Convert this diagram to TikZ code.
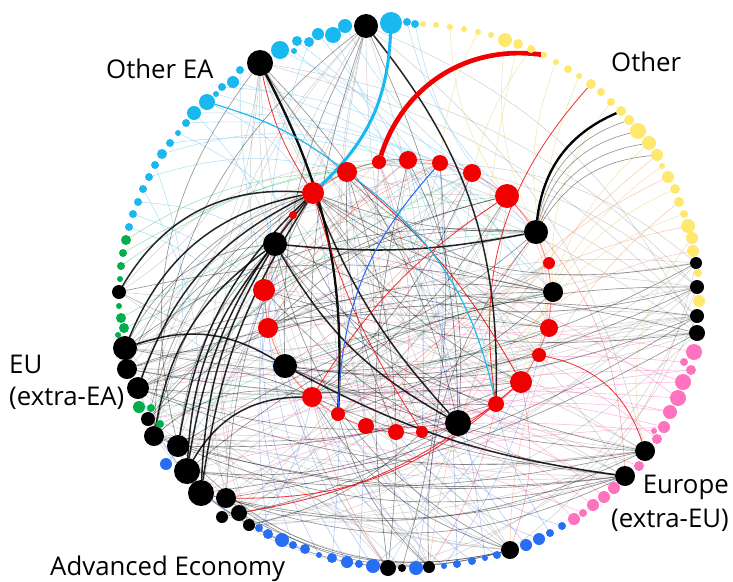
\documentclass[tikz,border=0pt]{standalone}
\usepackage{fontspec}
\setmainfont{Open Sans}
\usetikzlibrary{backgrounds}
\definecolor{cy}{RGB}{25,185,240}
\definecolor{cyl}{RGB}{120,200,240}
\definecolor{yl}{RGB}{255,232,110}
\definecolor{yll}{RGB}{235,220,150}
\definecolor{org}{RGB}{240,170,140}
\definecolor{gr}{RGB}{0,175,75}
\definecolor{bl}{RGB}{40,110,245}
\definecolor{bll}{RGB}{110,150,240}
\definecolor{pk}{RGB}{255,115,190}
\definecolor{rd}{RGB}{240,0,0}
\tikzset{
  dot/.style={circle,inner sep=0pt,outer sep=0pt,draw=none},
  lab/.style={inner sep=0pt,font=\fontsize{22pt}{26pt}\selectfont},
  e1/.style={black,line width=1.3pt,opacity=.85},
  e2/.style={black,line width=.55pt,opacity=.42},
  e3/.style={black,line width=.45pt,opacity=.18},
  ecy/.style={cyl,line width=.5pt,opacity=.55},
  epk/.style={pk,line width=.5pt,opacity=.5},
  eyl/.style={yll,line width=.5pt,opacity=.7},
  eor/.style={org,line width=.5pt,opacity=.6},
  ebl/.style={bll,line width=.5pt,opacity=.5},
  egr/.style={gr,line width=.45pt,opacity=.4},
  erd/.style={rd,line width=.7pt,opacity=.8},
  erf/.style={rd,line width=.45pt,opacity=.35},
}
\begin{document}
\begin{tikzpicture}[x=0.03cm,y=-0.03cm]
\useasboundingbox (0,0) rectangle (733,581);
% ---------- outer ring nodes ----------
\foreach \n/\x/\y/\r/\c in {
 c1/129/227/4/cy, c2/133/214/4/cy, c3/138/202/4/cy, c4/143/189/4/cy, c5/149/177/4/cy,
 c6/155/165/4/cy, c7/162/154/5/cy, c8/170/143/4/cy, c9/178/133/3/cy, c10/186/123/4/cy,
 c11/194/113/7/cy, c12/207/102/8/cy, c13/216/94/3/cy, c14/222/87/4/cy, c15/233/82/6/cy,
 c16/240/70/4/cy, k1/260/63/13/black, c17/280/50/9/cy, c18/294/51/3/cy, c19/297/41/5/cy,
 c20/309/42/5/cy, c21/318/34/6/cy, c22/333/35/8/cy, c23/345/26/7/cy, k2/366/26/12/black,
 c24/391/23/11/cy, c25/407/22/4/cy, c26/415/24/4/cy,
 y1/423/24/3/yl, y2/436/25/3/yl, y3/450/27/3/yl, y4/464/29/3/yl, y5/478/32/3/yl,
 y6/491/35/3/yl, y7/505/40/7/yl, y8/518/44/5/yl, y9/531/49/4/yl, y10/544/55/3/yl,
 y11/556/62/3/yl, y12/568/69/4/yl, y13/579/76/3/yl, y14/591/84/5/yl, y15/601/92/4/yl,
 y16/611/102/4/yl, y17/621/111/5/yl, y18/629/120/5/yl, y19/638/131/8/yl, y20/649/143/7/yl,
 y21/657/155/6/yl, y22/662/166/3/yl, y23/668/177/6/yl, y24/675/189/5/yl, y25/679/202/5/yl,
 y26/684/214/4/yl, y27/688/226/7/yl, y28/692/238/6/yl, y29/693/251/6/yl, k3/696/263/6/black,
 y30/698/273/4/yl, k4/697/287/7/black, y31/699/301/6/yl, k5/697/316/7/black, k6/697/333/8/black,
 p1/694/352/8/pk, p2/684/362/4/pk, p3/691/370/5/pk, p4/683/382/8/pk, p5/678/398/8/pk,
 p6/670/412/7/pk, p7/664/427/6/pk, p8/654/431/3/pk, p9/657/439/5/pk, k7/645/451/10/black,
 p10/639/466/5/pk, k8/625/476/10/black, p11/614/488/6/pk, p12/604/497/6/pk, p13/593/505/6/pk,
 p14/583/513/4/pk, p15/574/519/6/pk,
 b1/562/526/4/bl, b2/550/533/4/bl, b3/539/539/6/bl, b4/526/545/6/bl, k9/510/550/9/black,
 b5/497/555/4/bl, b6/485/558/3/bl, b7/472/561/4/bl, b8/457/564/4/bl, b9/444/566/3/bl,
 k10/429/567/6/black, b10/416/568/7/bl, k11/402/568/4/black, k12/388/568/8/black, b11/373/566/7/bl,
 b12/359/564/4/bl, b13/347/562/6/bl, b14/332/558/5/bl, b15/319/555/3/bl, b16/305/549/5/bl,
 b17/293/545/4/bl, b18/282/540/7/bl, b19/268/534/5/bl, b20/259/528/4/bl, k13/249/525/6/black,
 k14/239/513/8/black, k15/222/517/6/black, k16/226/498/10/black, k17/201/493/13/black,
 k18/187/471/13/black, b21/166/464/6/bl, k19/178/446/11/black, k20/154/436/10/black,
 g11/160/424/4/gr, k21/148/419/7/black, g10/151/408/4/gr, g9/139/407/6/gr, k22/138/388/11/black,
 k23/127/369/10/black, k24/125/348/12/black, g8/118/335/3/gr, g7/124/328/5/gr, g6/121/318/5/gr,
 g5/119/306/3/gr, k25/119/292/7/black, g4/120/279/3/gr, g3/121/266/4/gr, g2/123/253/4/gr,
 g1/126/240/5/gr}
 \node[dot,fill=\c,minimum size=\r*0.06cm] (\n) at (\x,\y) {};
% ---------- inner ring nodes ----------
\foreach \n/\x/\y/\r/\c in {
 r1/313/193/11/rd, r2/347/172/10/rd, r3/379/162/7/rd, r4/408/160/9/rd, r5/440/163/8/rd,
 r6/472/173/9/rd, r7/507/196/12/rd, ki1/536/232/12/black, r8/549/263/6/rd, ki2/553/292/10/black,
 r9/549/328/9/rd, r10/539/355/7/rd, r11/521/382/11/rd, r12/496/404/8/rd, ki3/458/423/13/black,
 r13/422/432/6/rd, r14/396/432/8/rd, r15/366/426/8/rd, r16/338/414/7/rd, r17/312/397/10/rd,
 ki4/285/366/12/black, r18/268/328/10/rd, r19/264/290/11/rd, ki5/275/244/12/black, r20/293/215/4/rd}
 \node[dot,fill=\c,minimum size=\r*0.06cm] (\n) at (\x,\y) {};
% ---------- labels ----------
\node[lab,anchor=base west] (lOEA) at (106,78) {Other EA};
\node[lab,anchor=base west] (lOth) at (611,71) {Other};
\node[lab,anchor=base west] (lEU1) at (9,373) {EU};
\node[lab,anchor=base west] (lEU2) at (9,405) {(extra-EA)};
\node[lab,anchor=base east] (lEur1) at (729,493) {Europe};
\node[lab,anchor=base east] (lEur2) at (729,527) {(extra-EU)};
\node[lab,anchor=base west] (lAdv) at (50,575) {Advanced Economy};
% ---------- edges ----------
\begin{scope}[on background layer]
\draw[rd,opacity=.45,line width=.8pt] (408,296) ellipse [x radius=4.29cm,y radius=4.11cm];
\draw[rd,opacity=.2,line width=.5pt] (408,298) ellipse [x radius=4.2cm,y radius=4.05cm];
% faint black
\foreach \a/\b/\s in {
 k24/k5/-10, k23/k6/-14, k22/k4/18, k20/k3/22, k19/k6/10, k18/k5/12, k17/k3/18, k16/k4/15,
 k15/k5/14, k14/k6/12, k13/k7/5, k21/k8/-10, k20/k7/-8, k25/k7/-10, k25/k8/-15, k23/k8/-12,
 k24/k9/-20, k22/k9/-18, k21/k10/-22, k20/k11/-25, k1/k8/-20, k1/k7/-15, k1/k9/-25, k1/k10/-20,
 k2/k9/-15, k2/k10/-20, k2/k13/-30, k2/k16/-28, k1/k12/-22, k2/k7/18, k2/k6/20, k1/k5/15,
 k1/k4/18, k3/k9/20, k4/k10/22, k5/k12/25, k6/k13/20, k3/k13/18, k4/k14/15, k7/k14/12,
 k8/k15/10, k9/k21/15, k3/r17/15, k4/r16/12, k5/r15/-12, k6/r14/-15, k7/r13/-10, k8/r1/-15,
 k9/r2/15, k10/r3/12, k12/r7/-12, k13/r6/-10, k14/r5/-14, k15/r8/-12, k16/r7/-15, k21/r8/-10,
 k22/r10/-12, k23/r9/-14, k24/r8/-16, k25/r10/-18, k1/r9/-15, k1/r11/-20, k2/r18/-15, k2/r15/-12,
 k2/r13/10, k1/r14/15, k6/r2/-10, k5/r3/-12, k4/r4/-15, k3/r5/-18, r1/r12/-10, r2/r10/-15,
 r3/r13/-12, r4/r17/15, r5/r18/-12, r6/r19/10, r7/r20/-8, r8/ki4/12, r9/ki5/-12, r10/r1/-15,
 r11/r2/-10, r12/r3/12, ki3/r2/-15, ki2/r19/10, ki1/r18/-12, r13/ki5/15, r14/r6/-12, r15/ki1/-10,
 r16/r7/-12, r17/r8/-10, r18/r9/10, r19/r10/-12, r20/r11/-15, k17/r4/20, k18/r6/22, k19/r5/25,
 k16/r3/25, k20/r2/28, k22/r3/30, k23/r4/26, k24/r6/22, k21/r2/30, k14/r19/35, k13/r20/30,
 k25/r4/25, k24/r5/-8, k23/r7/-10, k22/r6/-12, k12/k20/-20, k10/k19/-25, k11/k18/-22, k9/k24/-20,
 k8/k23/-14, k7/k25/-12, k6/k22/-10, k5/k21/-15, k12/ki4/10, k10/r17/14, k9/r16/18, k13/ki3/-25,
 k25/k1/-25, k24/k2/-22, k23/k1/-20, k22/k2/-18}
 \draw[e3] (\a) to[bend left=\s] (\b);
% coloured faint edges
\foreach \a/\b/\s in {
 c1/r18/15, c3/ki5/12, c5/r2/15, c7/r4/18, c8/ki1/20, c10/r7/15, c11/r5/12, c14/r6/15,
 c15/ki2/18, c17/r9/20, c19/r11/18, c21/ki3/20, c22/r13/15, c23/r6/-10, c25/r7/-15, c26/ki1/-18,
 c2/r19/10, c4/k18/20, c6/k20/20, c9/r20/10, c16/r17/-12, c20/ki4/-15, c13/ki2/15, c18/r12/20,
 c12/r1/15, c11/ki5/12}
 \draw[ecy] (\a) to[bend left=\s] (\b);
\foreach \a/\b/\s in {
 p1/ki4/-12, p2/r17/-10, p3/k19/-8, p4/r18/-12, p5/ki5/-15, p6/k22/-10, p7/r16/-12, p8/k18/-10,
 p9/r19/-18, p10/k23/-10, p11/r15/-15, p12/ki4/-18, p13/r17/-15, p14/k20/-12, p15/r14/-20,
 p4/r13/-10, p6/r14/-12, p3/k17/-8, p5/k21/-6, p7/k16/-6}
 \draw[epk] (\a) to[bend left=\s] (\b);
\foreach \a/\b/\s in {
 y3/r7/-15, y7/ki1/-15, y11/r8/-18, y13/r9/-15, y20/r10/-20, y22/r11/-20, y24/ki2/-15, y26/r12/-25,
 y28/k7/-25, y9/r6/-10, y5/r5/-10, y16/ki2/-20, y8/r12/-10}
 \draw[eyl] (\a) to[bend left=\s] (\b);
\foreach \a/\b/\s in {y23/r13/-20, y25/k9/-25, y27/r15/-20, y29/ki3/-25, y21/k10/-22}
 \draw[eor] (\a) to[bend left=\s] (\b);
\foreach \a/\b/\s in {
 b1/r13/15, b3/r14/15, b5/r15/12, b7/r16/10, b9/r17/12, b11/ki4/10, b13/r18/12, b15/r19/15,
 b17/ki5/15, b19/r20/12, b2/r12/10, b4/ki3/10, b6/r3/-8, b8/r4/-6, b10/r5/-6, b12/r2/-5,
 b14/r1/-8, b16/k21/20, b18/k22/22, b20/r17/-10, b21/r19/-12, b9/r10/-10, b11/r9/-12}
 \draw[ebl] (\a) to[bend left=\s] (\b);
\foreach \a/\b/\s in {g1/r2/15, g3/r4/15, g6/r7/12, g7/ki1/10, g9/r9/-8, g10/r6/10, g11/ki2/8, g2/r5/14}
 \draw[egr] (\a) to[bend left=\s] (\b);
% medium black
\foreach \a/\b/\s in {
 k24/k6/15, k23/k5/12, k22/k7/-15, k20/k8/-18, k19/ki2/10, k18/k4/20, k17/k7/-20, k16/k8/-22,
 k21/ki1/15, k25/ki2/12, k24/r9/10, k23/r11/-8, k22/ki3/-12, k20/r12/-10, k19/r11/-12, k18/ki3/-15,
 k17/k9/-25, k16/k9/-25, k14/k9/-20, k15/ki3/-10, k13/r13/-15, k1/ki2/-20, k1/ki3/15, k1/k19/-25,
 k2/ki4/-15, k2/k20/-25, k2/r17/-10, k2/ki3/12, k3/r1/20, k4/ki5/20, k5/ki4/15, k6/r19/12,
 k7/ki4/10, k8/k19/10, k8/r17/8, k3/k24/20, k4/k22/15, k5/k17/12, k6/k16/10, k7/k18/10,
 k8/k20/12, k9/r17/20, k9/ki5/25, k10/r16/15, k11/r5/-10, k12/r2/-12, k10/ki1/20, k12/r4/10,
 ki1/ki4/12, ki1/r19/-15, ki2/r16/12, ki3/r20/15, ki4/r10/-10, r18/ki2/15, r17/r7/-12, r1/r9/-10,
 r1/ki2/-12, r1/r11/-15, r2/r14/-12, r4/ki3/15, r6/r17/12, r7/r18/-15, ki5/r12/-20, ki4/r12/-12,
 ki1/y18/30, ki1/y19/30, ki1/y20/28, ki1/y21/26, k24/ki1/20, k22/ki2/12, k19/k9/-30, k17/k8/-15,
 ki5/k7/-18, r19/k8/-20, k21/r7/18, r1/ki1/-10, k23/r1/24, k20/r1/20, k21/r1/22, k16/r1/12,
 k19/ki5/18, k22/ki5/24, k24/ki5/28, k23/ki4/20, k22/r17/22, k20/r17/25}
 \draw[e2] (\a) to[bend left=\s] (\b);
% dark black
\foreach \a/\b/\s in {
 k18/r1/15, k17/r1/12, k22/r1/22, k24/r1/28, k25/r1/32, k19/r1/18, k18/ki5/18, k17/ki5/14,
 k20/ki5/22, k24/ki4/25, k18/r17/30, k2/r12/20, ki5/ki1/-8, ki5/ki3/-15, ki4/k8/-10, r1/ki3/-10}
 \draw[e1] (\a) to[bend left=\s] (\b);
\draw[black,line width=2pt,opacity=.95] (k1) to[bend left=15] (r16);
\draw[black,line width=2pt] (ki1) to[bend left=30] (y17);
% red edges
\foreach \a/\b/\s in {k1/r1/-10, y14/r12/-25, r10/k7/30, k16/r12/-20, k14/r11/-15, r1/r13/-8, r2/r11/10, r7/r17/-12}
 \draw[erd] (\a) to[bend left=\s] (\b);
\foreach \a/\b/\s in {r5/r19/-10, r4/r18/-10, r6/ki4/12, r3/r14/15, ki1/r16/10, r7/k8/20, r11/k9/15, r12/k10/10, r17/k12/-10}
 \draw[erf] (\a) to[bend left=\s] (\b);
% highlighted edges
\draw[rd,line width=4pt] (r3) to[bend left=40] (y10);
\draw[cy,line width=2.6pt] (c24) to[bend left=22] (r1);
\draw[cy,line width=1pt] (c12) to[bend left=10] (r2);
\draw[cy,line width=1pt] (r2) to[bend left=20] (r12);
\draw[bl,line width=.9pt] (r5) to[bend right=20] (r16);
\end{scope}
\end{tikzpicture}
\end{document}
